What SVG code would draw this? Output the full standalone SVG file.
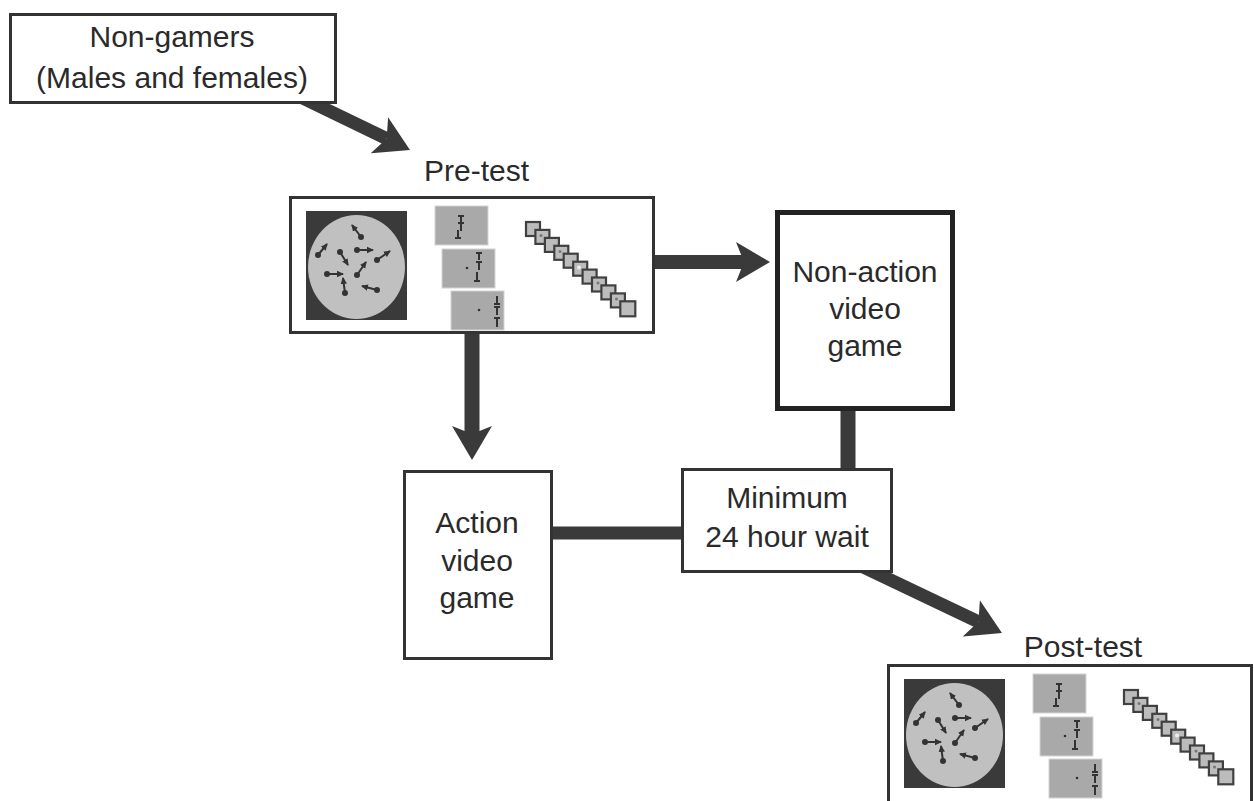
<svg xmlns="http://www.w3.org/2000/svg" xmlns:xlink="http://www.w3.org/1999/xlink" width="1254" height="801" viewBox="0 0 1254 801">
  <style>
    .box { fill: #ffffff; stroke: #333333; stroke-width: 3; }
    .box-thick { fill: #ffffff; stroke: #222222; stroke-width: 5; }
    .label { font-family: "Liberation Sans", Arial, Helvetica, sans-serif; font-size: 30px; fill: #2a2a2a; text-anchor: middle; }
    .flow { fill: none; stroke: #3a3a3a; stroke-linecap: butt; }
    .panel { fill: #a9a9a9; stroke: #d4d4d4; stroke-width: 1; }
    .tick { stroke: #333333; stroke-width: 2; fill: none; }
    .frame { fill: #bcbcbc; stroke: #404040; stroke-width: 2.2; }
    .motion { stroke: #333333; stroke-width: 2; fill: none; }
  </style>
  <defs>
    <!-- barbed arrowhead; line should stop at the notch (26 px short of the tip) -->
    <marker id="head" markerUnits="userSpaceOnUse" viewBox="0 -21 35 42" refX="8" refY="0" markerWidth="35" markerHeight="42" orient="auto">
      <path d="M0,-20 L34,0 L0,20 L8,0 Z" fill="#3a3a3a"/>
    </marker>
    <marker id="tiny" markerUnits="userSpaceOnUse" viewBox="0 -4 8 8" refX="6" refY="0" markerWidth="8" markerHeight="8" orient="auto">
      <path d="M0,-3.2 L7,0 L0,3.2 Z" fill="#333333"/>
    </marker>

    <!-- test battery: motion display, flanker panels, stimulus stream -->
    <g id="battery">
      <rect x="306" y="211" width="101" height="109" fill="#3a3a3a"/>
      <ellipse cx="356.5" cy="267" rx="48.5" ry="52" fill="#c0c0c0"/>
      <g class="motion">
        <line x1="361" y1="237" x2="352" y2="225" marker-end="url(#tiny)"/>
        <line x1="318" y1="255" x2="327" y2="244" marker-end="url(#tiny)"/>
        <line x1="340" y1="252" x2="348" y2="265" marker-end="url(#tiny)"/>
        <line x1="357" y1="250" x2="373" y2="250" marker-end="url(#tiny)"/>
        <line x1="377" y1="260" x2="390" y2="251" marker-end="url(#tiny)"/>
        <line x1="327" y1="274" x2="343" y2="274" marker-end="url(#tiny)"/>
        <line x1="357" y1="275" x2="366" y2="262" marker-end="url(#tiny)"/>
        <line x1="345" y1="293" x2="343" y2="278" marker-end="url(#tiny)"/>
        <line x1="377" y1="290" x2="362" y2="286" marker-end="url(#tiny)"/>
      </g>
      <g fill="#333333">
        <circle cx="361" cy="237" r="3"/>
        <circle cx="318" cy="255" r="3"/>
        <circle cx="340" cy="252" r="3"/>
        <circle cx="357" cy="250" r="3"/>
        <circle cx="377" cy="260" r="3"/>
        <circle cx="327" cy="274" r="3"/>
        <circle cx="357" cy="275" r="3"/>
        <circle cx="345" cy="293" r="3"/>
        <circle cx="377" cy="290" r="3"/>
      </g>

      <rect class="panel" x="435" y="206" width="53" height="39"/>
      <path class="tick" d="M458,216 H464 M461,216 V231 M458,223 H464 M458,230 V238 M455,238 H461"/>
      <rect class="panel" x="442" y="249" width="53" height="39"/>
      <circle cx="467" cy="268" r="1.3" fill="#333"/>
      <path class="tick" d="M476,253 H482 M479,253 V260 M476,262 H482 M479,262 V270 M477,272 V281 M474,281 H480"/>
      <rect class="panel" x="451" y="291" width="53" height="39"/>
      <circle cx="479" cy="310" r="1.3" fill="#333"/>
      <path class="tick" d="M497,296 V304 M494,304 H500 M494,307 H500 M497,307 V315 M494,318 H500 M497,318 V327"/>

      <g class="frame">
        <rect x="526" y="222" width="14" height="14"/>
        <rect x="535.4" y="229.9" width="14" height="14"/>
        <rect x="544.9" y="237.9" width="14" height="14"/>
        <rect x="554.3" y="245.8" width="14" height="14"/>
        <rect x="563.7" y="253.7" width="14" height="14"/>
        <rect x="573.2" y="261.7" width="14" height="14"/>
        <rect x="582.6" y="269.6" width="14" height="14"/>
        <rect x="592" y="277.5" width="14" height="14"/>
        <rect x="601.4" y="285.4" width="14" height="14"/>
        <rect x="610.9" y="293.4" width="14" height="14"/>
        <rect x="620.3" y="301.3" width="15" height="15"/>
      </g>
      <g fill="#777777">
        <circle cx="541" cy="235.5" r="1.5"/>
        <circle cx="560" cy="251.5" r="1.5"/>
        <circle cx="598" cy="283" r="1.5"/>
        <circle cx="616.5" cy="299" r="1.5"/>
      </g>
      <circle cx="579" cy="267.5" r="2" fill="#eeeeee"/>
    </g>
  </defs>

  <rect width="1254" height="801" fill="#ffffff"/>

  <!-- connectors -->
  <g id="connectors">
    <line class="flow" x1="301.5" y1="97.5" x2="386.6" y2="138.7" stroke-width="13" marker-end="url(#head)"/>
    <line class="flow" x1="650" y1="262" x2="744" y2="262" stroke-width="14" marker-end="url(#head)"/>
    <line class="flow" x1="472" y1="330" x2="472" y2="434" stroke-width="15" marker-end="url(#head)"/>
    <line class="flow" x1="553" y1="533" x2="683" y2="533" stroke-width="13"/>
    <line class="flow" x1="848" y1="408" x2="848" y2="470" stroke-width="15"/>
    <line class="flow" x1="862.5" y1="566.6" x2="978.5" y2="621.8" stroke-width="13" marker-end="url(#head)"/>
  </g>

  <!-- nodes -->
  <g id="non-gamers">
    <rect class="box" x="10.5" y="14.5" width="325" height="88"/>
    <text class="label" x="172" y="47">Non-gamers</text>
    <text class="label" x="172" y="88">(Males and females)</text>
  </g>

  <g id="pre-test">
    <text class="label" x="476.5" y="181">Pre-test</text>
    <rect class="box" x="290.5" y="197.5" width="363" height="135"/>
    <use xlink:href="#battery" href="#battery"/>
  </g>

  <g id="non-action-game">
    <rect class="box-thick" x="777.5" y="212.5" width="175" height="196"/>
    <text class="label" x="865" y="282">Non-action</text>
    <text class="label" x="865" y="319">video</text>
    <text class="label" x="865" y="356">game</text>
  </g>

  <g id="action-game">
    <rect class="box" x="404.5" y="471.5" width="147" height="187"/>
    <text class="label" x="477" y="533">Action</text>
    <text class="label" x="477" y="571">video</text>
    <text class="label" x="477" y="608">game</text>
  </g>

  <g id="wait">
    <rect class="box" x="682.5" y="469.5" width="209" height="102"/>
    <text class="label" x="787" y="508">Minimum</text>
    <text class="label" x="787" y="547">24 hour wait</text>
  </g>

  <g id="post-test">
    <text class="label" x="1083" y="657">Post-test</text>
    <g transform="translate(598,468)">
      <!-- panel runs past the lower edge of the canvas -->
      <rect class="box" x="290.5" y="197.5" width="363" height="145"/>
      <use xlink:href="#battery" href="#battery"/>
    </g>
  </g>
</svg>
